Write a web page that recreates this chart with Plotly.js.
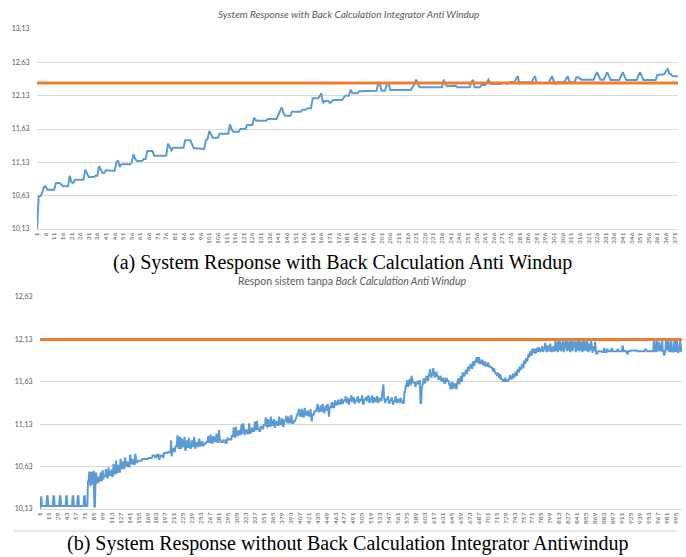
<!DOCTYPE html>
<html><head><meta charset="utf-8">
<script src="https://cdn.plot.ly/plotly-3.0.1.min.js"></script>
<style>html,body{margin:0;padding:0;background:#fff}#chart{width:686px;height:557px}</style>
</head><body><div id="chart"></div>
<script>
// ---------- data ----------
const topTitle = "System Response with Back Calculation Integrator Anti Windup";
const bottomTitle = "Respon sistem tanpa <i>Back Calculation Anti Windup</i>";
const captionA = "(a) System Response with Back Calculation Anti Windup";
const captionB = "(b) System Response without Back Calculation Integrator Antiwindup";

const topSetpoint = 12.32;
const bottomSetpoint = 12.13;

const topYTickVals = [10.13, 10.63, 11.13, 11.63, 12.13, 12.63, 13.13];
const topYTickText = ["10,13", "10,63", "11,13", "11,63", "12,13", "12,63", "13,13"];
const botYTickVals = [10.13, 10.63, 11.13, 11.63, 12.13, 12.63];
const botYTickText = ["10,13", "10,63", "11,13", "11,63", "12,13", "12,63"];
const topLabelStep = 5;
const botLabelStep = 14;

// response with back calculation: [value, number of samples]
const topRuns = [
 [10.13,1],[10.62,2],[10.67,1],[10.76,1],[10.77,1],[10.72,5],[10.82,3],[10.80,1],[10.77,4],[10.93,1],
 [10.83,1],[10.82,1],[10.87,6],[11.02,1],[10.96,1],[10.91,4],[10.93,2],[11.07,1],[11.02,1],[10.97,2],
 [11.01,3],[11.00,3],[11.12,1],[11.16,1],[11.06,1],[11.10,6],[11.13,1],[11.25,1],[11.18,1],[11.15,4],
 [11.18,2],[11.30,4],[11.23,8],[11.41,1],[11.35,1],[11.31,1],[11.35,7],[11.46,4],[11.40,1],[11.34,6],
 [11.33,1],[11.46,1],[11.48,1],[11.60,1],[11.55,1],[11.50,4],[11.56,6],[11.70,1],[11.62,1],[11.59,4],
 [11.63,4],[11.69,4],[11.80,1],[11.76,1],[11.755,6],[11.78,6],[11.84,1],[11.90,1],[11.955,1],[11.87,1],
 [11.83,4],[11.89,6],[11.92,3],[11.94,3],[12.09,4],[12.12,1],[12.165,1],[12.02,1],[12.05,3],[12.02,1],
 [12.05,1],[12.065,6],[12.10,1],[12.13,3],[12.22,1],[12.17,1],[12.165,3],[12.195,4],[12.205,7],[12.305,1],
 [12.30,1],[12.205,3],[12.30,1],[12.32,1],[12.215,13],[12.26,1],[12.30,1],[12.37,1],[12.30,1],[12.255,14],
 [12.37,1],[12.30,1],[12.27,5],[12.28,1],[12.255,8],[12.33,1],[12.37,1],[12.255,4],[12.29,3],[12.33,1],
 [12.37,1],[12.32,1],[12.305,6],[12.32,3],[12.305,1],[12.33,4],[12.38,1],[12.42,1],[12.305,1],[12.33,7],
 [12.38,1],[12.42,1],[12.32,8],[12.38,1],[12.42,1],[12.34,1],[12.305,1],[12.33,5],[12.38,1],[12.42,1],
 [12.34,1],[12.33,3],[12.405,2],[12.39,1],[12.37,8],[12.43,1],[12.48,1],[12.43,1],[12.37,3],[12.43,1],
 [12.48,1],[12.42,1],[12.365,6],[12.43,1],[12.48,1],[12.42,1],[12.365,7],[12.43,1],[12.48,1],[12.42,1],
 [12.365,8],[12.44,4],[12.45,1],[12.50,1],[12.53,1],[12.46,1],[12.45,1],[12.42,4]
];

// response without back calculation: [value, number of samples]
const bottomRuns = [
 [10.13,1],[10.28,2],[10.165,8],[10.28,2],[10.165,8],[10.28,2],[10.165,8],[10.28,2],[10.165,8],[10.28,2],
 [10.165,8],[10.28,2],[10.165,6],[10.28,2],[10.165,8],[10.28,2],[10.165,4],
 [10.45,2],[10.56,2],[10.40,1],[10.57,2],[10.42,1],[10.58,2],[10.16,2],[10.55,2],[10.44,2],[10.50,2],
 [10.45,1],[10.56,2],[10.47,2],[10.59,1],[10.48,1],
 [10.52,3],[10.60,1],[10.50,3],[10.62,1],[10.53,3],[10.58,2],[10.52,2],[10.66,1],[10.55,3],[10.70,1],
 [10.56,2],[10.64,2],[10.57,2],[10.72,1],[10.60,2],[10.68,2],[10.61,2],[10.74,1],[10.63,2],[10.68,2],
 [10.63,3],[10.77,1],[10.66,2],[10.71,2],[10.66,3],[10.78,1],[10.68,3],[10.70,2],[10.70,5],
 [10.72,10],[10.73,6],[10.76,4],[10.74,3],[10.77,3],[10.72,2],[10.76,4],[10.74,2],[10.79,6],
 [10.80,5],[10.94,1],[10.75,1],[10.84,3],[10.81,2],[10.87,3],[11.00,1],[10.84,2],[10.97,2],[10.85,2],
 [10.96,1],[10.87,3],[10.98,1],[10.83,2],[10.93,2],[10.86,2],[10.97,1],[10.85,3],[10.94,2],[10.87,2],
 [10.98,1],[10.84,2],[10.91,3],[10.87,2],[10.96,1],[10.88,3],[10.93,2],[10.88,2],[10.90,3],
 [10.92,3],[10.99,1],[10.92,3],[11.01,1],[10.91,3],[10.98,2],[10.93,3],[11.02,1],[10.92,3],[11.06,1],
 [10.95,2],[10.92,4],[10.94,3],[10.91,3],[10.96,2],[10.95,5],
 [10.99,3],[11.09,1],[10.97,2],[11.10,1],[11.00,3],[11.06,2],[11.01,3],[11.13,1],[11.02,2],[11.14,1],
 [11.00,2],[11.06,3],[11.02,3],[11.14,1],[11.03,3],[11.09,2],[11.05,3],[11.16,1],[11.06,2],[11.17,1],
 [11.07,3],[11.04,2],[11.10,3],[11.08,2],
 [11.12,3],[11.21,1],[11.09,2],[11.18,2],[11.11,3],[11.22,1],[11.12,3],[11.19,2],[11.10,2],[11.16,3],
 [11.12,2],[11.22,1],[11.13,3],[11.20,2],[11.11,2],[11.17,3],[11.23,1],[11.14,2],[11.21,2],[11.15,3],
 [11.24,1],[11.14,3],[11.17,3],
 [11.20,2],[11.26,3],[11.31,1],[11.23,3],[11.30,2],[11.22,3],[11.32,1],[11.24,3],[11.29,2],[11.23,3],
 [11.31,1],[11.16,2],[11.24,3],[11.28,3],[11.30,2],[11.37,1],[11.28,3],[11.35,2],[11.29,2],[11.37,1],
 [11.27,3],[11.35,2],[11.30,2],[11.37,1],[11.22,2],[11.33,3],[11.38,2],[11.33,3],[11.40,2],[11.36,3],
 [11.41,2],[11.37,3],[11.42,2],[11.38,2],
 [11.41,3],[11.46,1],[11.38,2],[11.43,2],[11.36,1],[11.42,3],[11.47,1],[11.40,2],[11.44,2],[11.37,1],
 [11.41,3],[11.46,2],[11.39,2],[11.43,1],[11.41,3],[11.47,1],[11.37,2],[11.42,3],[11.45,1],[11.40,2],
 [11.46,2],[11.38,1],[11.42,3],[11.47,1],[11.39,2],[11.44,2],[11.40,3],[11.46,1],[11.38,2],[11.43,3],
 [11.41,2],[11.48,1],[11.52,1],[11.60,1],[11.45,1],[11.38,2],[11.42,3],[11.46,1],[11.37,2],[11.41,3],
 [11.45,1],[11.36,2],[11.40,3],[11.46,1],[11.38,2],[11.42,3],[11.39,2],[11.44,1],[11.40,2],[11.38,3],
 [11.51,2],[11.58,2],[11.64,2],[11.57,1],[11.66,2],[11.60,2],[11.70,1],[11.63,2],[11.62,3],[11.57,1],
 [11.63,3],[11.60,2],[11.64,2],[11.38,2],[11.55,1],[11.62,2],[11.66,2],[11.61,1],[11.69,3],[11.64,2],
 [11.71,2],[11.78,1],[11.68,2],[11.72,2],[11.79,1],[11.69,3],[11.75,2],[11.70,2],[11.66,3],[11.70,1],
 [11.64,3],[11.68,2],[11.62,3],[11.67,2],[11.64,3],
 [11.60,2],[11.55,2],[11.62,2],[11.56,2],[11.60,3],[11.54,1],[11.63,2],[11.66,2],[11.60,1],[11.70,2],
 [11.64,2],[11.74,1],[11.70,3],[11.77,2],[11.73,2],[11.80,2],[11.76,1],[11.83,3],[11.78,2],[11.86,2],
 [11.82,1],[11.88,3],[11.92,1],[11.86,2],[11.91,2],[11.85,3],[11.88,2],[11.83,2],[11.86,2],[11.82,3],
 [11.85,2],[11.81,3],
 [11.80,3],[11.76,2],[11.79,1],[11.73,3],[11.70,2],[11.74,1],[11.68,3],[11.72,1],[11.66,3],[11.64,3],
 [11.67,2],[11.64,4],[11.66,2],[11.70,2],[11.67,3],
 [11.72,2],[11.68,1],[11.75,2],[11.71,2],[11.78,1],[11.74,2],[11.80,2],[11.77,1],[11.84,2],[11.80,2],
 [11.88,1],[11.84,2],[11.90,2],[11.87,1],[11.96,2],[11.92,1],[11.99,2],[11.95,2],[12.02,1],[11.97,2],
 [12.01,2],[11.96,1],[12.03,2],[11.99,2],[12.04,1],[11.98,2],[12.00,2],[12.05,1],[11.98,2],[12.02,2],
 [12.09,1],[11.99,3],[12.06,1],[12.00,3],[12.08,1],[11.99,3],[12.05,2],[11.99,1],
 [12.00,1],[12.11,1],[11.99,1],[12.10,1],[11.98,2],[12.11,1],[12.00,1],[12.12,1],[11.99,2],[12.09,1],
 [12.00,1],[12.11,1],[11.98,1],[12.05,2],[12.11,1],[11.99,2],[12.11,1],[12.00,1],[12.10,1],[11.98,2],
 [12.12,1],[12.00,1],[12.11,1],[11.99,1],[12.07,2],[12.11,1],[11.98,2],[12.10,1],[12.00,1],[12.12,1],
 [11.99,2],[12.11,1],[12.00,1],[12.10,1],[11.98,2],[12.11,1],[11.99,1],[12.12,1],[12.00,2],[12.10,1],
 [11.99,1],[12.11,1],[11.98,2],[12.08,1],[12.00,2],[12.11,1],[11.97,2],[12.05,1],[11.99,2],[12.10,1],
 [11.96,3],[11.99,3],
 [11.99,4],[11.98,3],[12.03,1],[11.98,4],[12.02,1],[11.99,6],[12.03,1],[11.99,8],[12.01,2],[11.99,6],
 [12.06,1],[12.02,1],[11.99,5],[11.96,2],[11.99,4],[12.00,10],[11.99,12],[12.01,3],[11.99,8],[11.99,3],
 [12.11,2],[11.99,3],[12.12,1],[11.99,2],[12.10,1],[12.00,3],[12.12,2],[11.99,2],[11.94,1],[11.99,2],
 [12.13,1],[12.00,2],[12.11,2],[11.99,3],[12.12,1],[11.98,2],[11.99,2],[12.13,2],[11.99,2],[12.12,1],
 [11.97,2],[12.00,2],[12.12,1],[11.99,3]
];

// ---------- build ----------
function expand(runs){ const out=[]; runs.forEach(r=>{ for(let k=0;k<r[1];k++) out.push(r[0]); }); return out; }
const topY = expand(topRuns);
const botY = expand(bottomRuns);
const topX = topY.map((_,i)=>i+1);
const botX = botY.map((_,i)=>i+1);
const topN = topY.length, botN = botY.length;
function labels(n, step){ const v=[],t=[]; for(let i=1;i<=n;i+=step){v.push(i);t.push(String(i));} return {v,t}; }
const topXL = labels(topN, topLabelStep);
const botXL = labels(botN, botLabelStep);

const W=686,H=557;
const px=x=>x/W, py=y=>(H-y)/H;
const blue='#5b9bd5', orange='#ed7d31', grid='#d9d9d9', txt='#595959';
const tickFont={family:'Lato, "Liberation Sans", sans-serif', size:7, color:txt};

const traces=[
 {x:topX,y:topY,xaxis:'x',yaxis:'y',type:'scatter',mode:'lines',line:{color:blue,width:2},hoverinfo:'skip'},
 {x:[1,topN],y:[topSetpoint,topSetpoint],xaxis:'x',yaxis:'y',type:'scatter',mode:'lines',line:{color:orange,width:3},hoverinfo:'skip'},
 {x:botX,y:botY,xaxis:'x2',yaxis:'y2',type:'scatter',mode:'lines',line:{color:blue,width:2},hoverinfo:'skip'},
 {x:[1,botN],y:[bottomSetpoint,bottomSetpoint],xaxis:'x2',yaxis:'y2',type:'scatter',mode:'lines',line:{color:orange,width:3},hoverinfo:'skip'}
];

function xax(domain, range, tl, anchor){
 return {domain, range, anchor, type:'linear', tickmode:'array', tickvals:tl.v, ticktext:tl.t, tickangle:-90,
  tickfont:{...tickFont,size:6.5}, showgrid:false, zeroline:false, showline:true, linecolor:grid, linewidth:1,
  ticks:'', fixedrange:true};
}
function yax(domain, range, vals, text, anchor){
 return {domain, range, anchor, tickmode:'array', tickvals:vals, ticktext:text, tickfont:tickFont,
  showgrid:true, gridcolor:grid, gridwidth:1, zeroline:false, showline:false,
  ticks:'outside', ticklen:5, tickcolor:'rgba(0,0,0,0)', fixedrange:true};
}

const layout={
 width:W, height:H, margin:{l:0,r:0,t:0,b:0}, paper_bgcolor:'#fff', plot_bgcolor:'#fff', showlegend:false,
 xaxis: xax([px(37),px(678)],[1,topN],topXL,'y'),
 yaxis: yax([py(229),py(29)],[10.13,13.13],topYTickVals,topYTickText,'x'),
 xaxis2: xax([px(40),px(682)],[1,botN],botXL,'y2'),
 yaxis2: yax([py(509),py(297)],[10.13,12.63],botYTickVals,botYTickText,'x2'),
 annotations:[
  {text:'<i>'+topTitle+'</i>', xref:'paper', yref:'paper', x:px(348), y:py(14), xanchor:'center', yanchor:'middle', showarrow:false,
   font:{family:'Lato, "Liberation Sans", sans-serif', size:10, color:txt}},
  {text:bottomTitle, xref:'paper', yref:'paper', x:px(352), y:py(281), xanchor:'center', yanchor:'middle', showarrow:false,
   font:{family:'Lato, "Liberation Sans", sans-serif', size:10.5, color:txt}},
  {text:captionA, xref:'paper', yref:'paper', x:px(342.5), y:py(262), xanchor:'center', yanchor:'middle', showarrow:false,
   font:{family:'"Liberation Serif", "DejaVu Serif", serif', size:20, color:'#000'}},
  {text:captionB, xref:'paper', yref:'paper', x:px(348), y:py(543), xanchor:'center', yanchor:'middle', showarrow:false,
   font:{family:'"Liberation Serif", "DejaVu Serif", serif', size:20, color:'#000'}}
 ],
 shapes:[
  {type:'line', xref:'paper', yref:'paper', x0:px(13), x1:px(676), y0:py(531), y1:py(531), line:{color:'#d0d0d0', width:1}}
 ]
};
Plotly.newPlot('chart', traces, layout, {staticPlot:true, displayModeBar:false});
</script>
</body></html>
